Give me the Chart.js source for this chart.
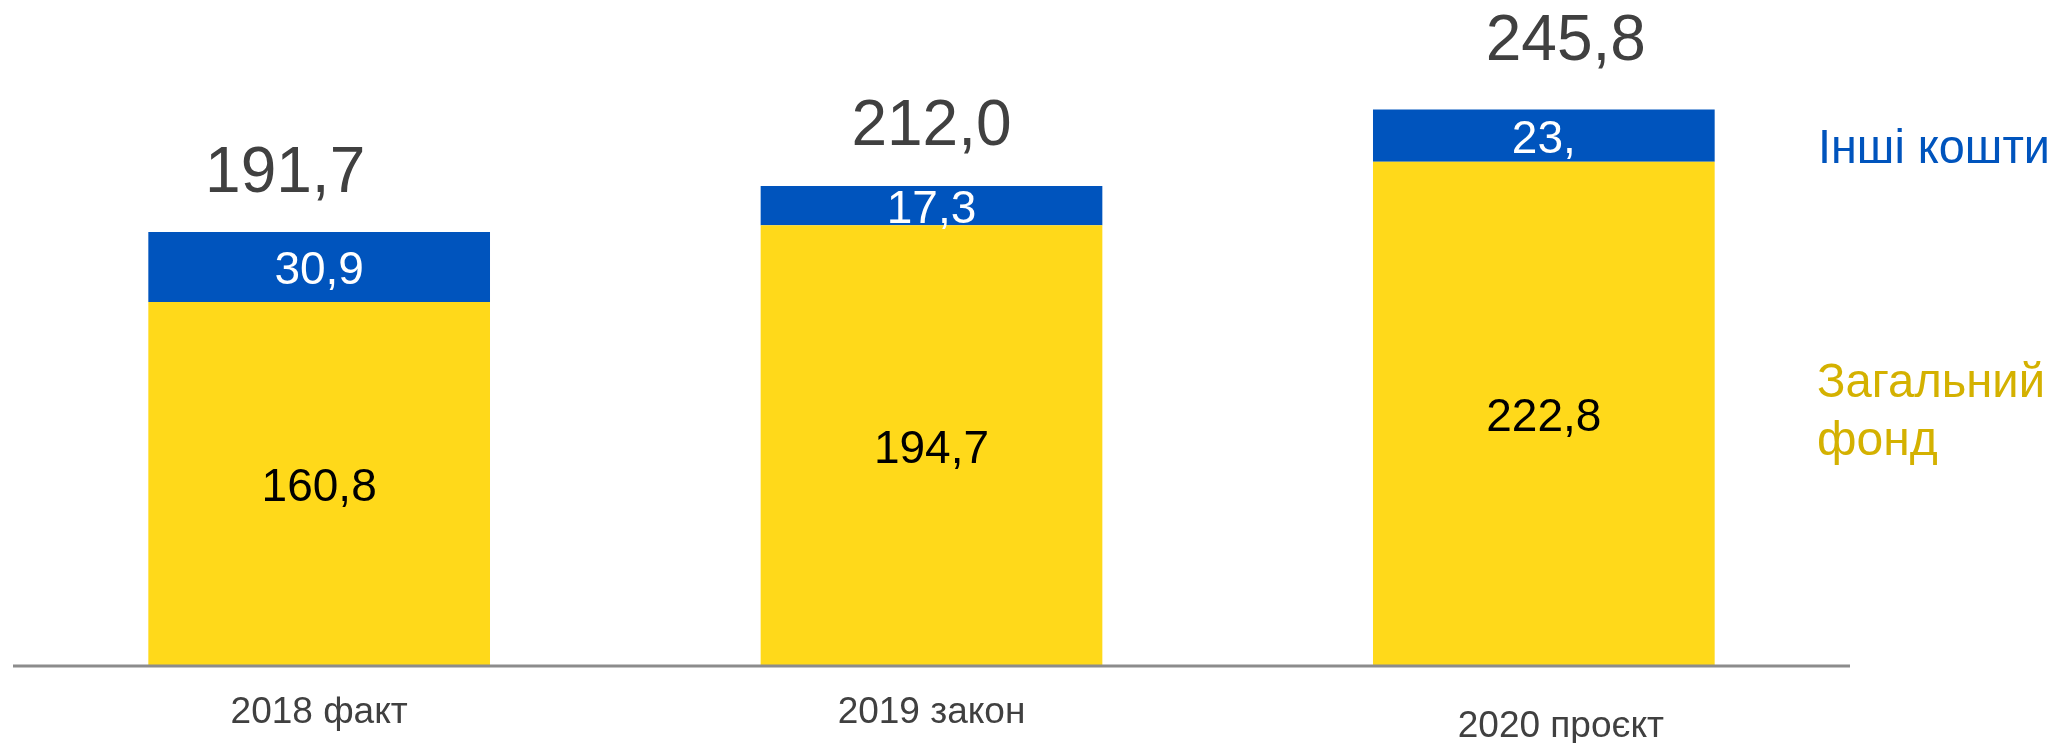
<!DOCTYPE html>
<html>
<head>
<meta charset="utf-8">
<script src="https://cdn.jsdelivr.net/npm/chart.js@4.4.1/dist/chart.umd.min.js"></script>
<style>
  html, body { margin: 0; padding: 0; background: #fff; }
  #wrap { width: 2056px; height: 743px; position: relative; }
</style>
</head>
<body>
<div id="wrap"><canvas id="canvas"></canvas></div>
<script>
/* дані */
const categories = ['2018 факт', '2019 закон', '2020 проєкт'];
const generalFund = [160.8, 194.7, 222.8];
const otherFunds = [30.9, 17.3, 23.0];
const totals = [191.7, 212.0, 245.8];
const generalLabels = ['160,8', '194,7', '222,8'];
const otherLabels = ['30,9', '17,3', '23,'];
const totalLabels = ['191,7', '212,0', '245,8'];
const seriesNames = ['Загальний фонд', 'Інші кошти'];

const FONT = '"Liberation Sans", Arial, sans-serif';
const YELLOW = '#FFD91A';
const BLUE = '#0054BD';

/* small hand tweaks so the labels sit like in the slide */
const totalShift = [[-34, 40], [0, 41], [22, 50]];
const catShift = [[0, 57], [0, 57], [17, 71]];

const labelsPlugin = {
  id: 'labels',
  afterDatasetsDraw(chart) {
    const ctx = chart.ctx;
    const area = chart.chartArea;
    const bottomMeta = chart.getDatasetMeta(0);
    const topMeta = chart.getDatasetMeta(1);

    ctx.save();
    // вісь
    ctx.strokeStyle = '#8C8C8C';
    ctx.lineWidth = 3;
    ctx.beginPath();
    ctx.moveTo(area.left, area.bottom);
    ctx.lineTo(area.right, area.bottom);
    ctx.stroke();

    ctx.textAlign = 'center';
    ctx.textBaseline = 'alphabetic';
    ctx.font = '46px ' + FONT;

    bottomMeta.data.forEach(function(bar, i) {
      ctx.fillStyle = '#000';
      ctx.fillText(generalLabels[i], bar.x, (bar.y + bar.base) / 2 + 17);
    });
    topMeta.data.forEach(function(bar, i) {
      ctx.fillStyle = '#fff';
      ctx.fillText(otherLabels[i], bar.x, (bar.y + bar.base) / 2 + 17);
    });

    // підсумки
    ctx.font = '64px ' + FONT;
    ctx.fillStyle = '#404040';
    topMeta.data.forEach(function(bar, i) {
      ctx.fillText(totalLabels[i], bar.x + totalShift[i][0], bar.y - totalShift[i][1]);
    });

    // категорії
    const xs = chart.scales.x;
    ctx.font = '37px ' + FONT;
    categories.forEach(function(c, i) {
      ctx.fillText(c, xs.getPixelForValue(i) + catShift[i][0], area.bottom + catShift[i][1]);
    });

    // підписи серій праворуч
    ctx.textAlign = 'left';
    ctx.font = '49px ' + FONT;
    ctx.fillStyle = '#0054BD';
    ctx.fillText(seriesNames[1], 1818, 163, 232);
    ctx.font = '48px ' + FONT;
    ctx.fillStyle = '#D4B100';
    const words = seriesNames[0].split(' ');
    ctx.fillText(words[0], 1817, 397, 228);
    ctx.fillText(words[1], 1817, 455, 228);
    ctx.restore();
  }
};

const ctx = document.getElementById('canvas');
new Chart(ctx, {
  type: 'bar',
  data: {
    labels: categories,
    datasets: [
      {
        label: seriesNames[0],
        data: generalFund,
        backgroundColor: YELLOW,
        borderWidth: 0,
        barPercentage: 0.558,
        categoryPercentage: 1.0
      },
      {
        label: seriesNames[1],
        data: otherFunds,
        backgroundColor: BLUE,
        borderWidth: 0,
        barPercentage: 0.558,
        categoryPercentage: 1.0
      }
    ]
  },
  options: {
    responsive: true,
    maintainAspectRatio: false,
    animation: false,
    layout: { padding: { left: 13, right: 206, top: 0, bottom: 77 } },
    plugins: {
      legend: { display: false },
      tooltip: { enabled: false }
    },
    scales: {
      x: { display: false, stacked: true },
      y: { display: false, stacked: true, min: 0, max: 294.2 }
    }
  },
  plugins: [labelsPlugin]
});
</script>
</body>
</html>
